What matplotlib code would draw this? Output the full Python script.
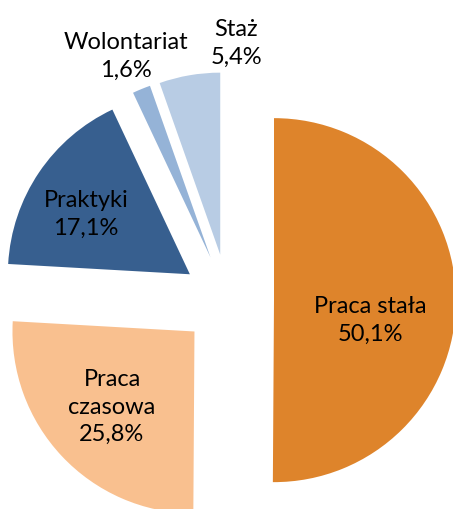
import matplotlib
matplotlib.use("Agg")
import matplotlib.pyplot as plt

categories = ["Praca stała", "Praca czasowa", "Praktyki", "Wolontariat", "Staż"]
values = [50.1, 25.8, 17.1, 1.6, 5.4]
label_texts = ["Praca stała\n50,1%", "Praca\nczasowa\n25,8%", "Praktyki\n17,1%",
               "Wolontariat\n1,6%", "Staż\n5,4%"]

colors = ["#DE842B", "#F9C08F", "#375F8F", "#95B3D7", "#B8CCE4"]
# label centres in pixel coords (x from left, y from top)
label_pos = [(370, 320), (112, 407), (86, 214), (126, 56), (236, 43)]

W, H = 453, 509
fig = plt.figure(figsize=(W / 100, H / 100), dpi=100)
ax = fig.add_axes([0, 0, 1, 1])
cx, cy = 228, H - 300
R = 182
ax.pie(values, colors=colors, startangle=90, counterclock=False,
       center=(cx, cy), radius=R, explode=[46] * len(values),
       wedgeprops=dict(linewidth=0))
ax.set_xlim(0, W)
ax.set_ylim(0, H)
ax.set_aspect("equal")
ax.axis("off")

for txt, (px, py) in zip(label_texts, label_pos):
    ax.text(px, H - py, txt, ha="center", va="center", fontsize=17,
            family="Lato", linespacing=1.4, color="#000000")

fig.savefig("out.png", dpi=100)
